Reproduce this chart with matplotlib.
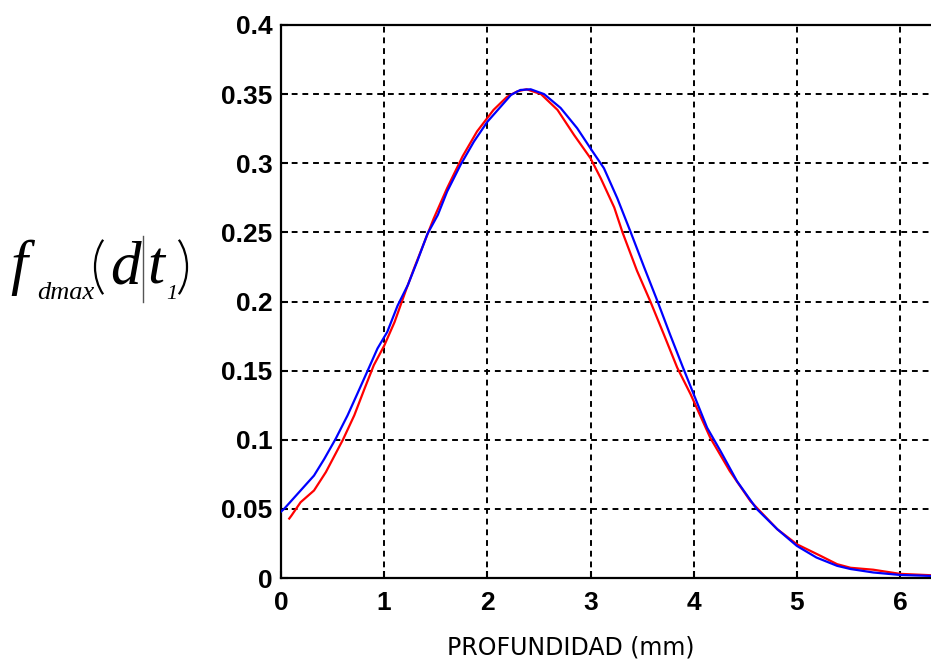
import numpy as np
import matplotlib
matplotlib.use("Agg")
import matplotlib.pyplot as plt
from matplotlib.lines import Line2D
from matplotlib.patches import Arc

plt.rcParams.update({
    "figure.facecolor": (1.0, 1.0, 1.0, 1.0),
})

# curve values
x_blue = [0.0, 0.03, 0.19, 0.32, 0.42, 0.53, 0.645, 0.74, 0.84, 0.935, 1.03,
          1.13, 1.23, 1.32, 1.42, 1.52, 1.61, 1.74, 1.87, 2.0, 2.13, 2.23,
          2.32, 2.42, 2.55, 2.71, 2.87, 3.02, 3.13, 3.26, 3.39, 3.52, 3.65,
          3.77, 3.89, 4.0, 4.13, 4.26, 4.42, 4.61, 4.81, 5.0, 5.19, 5.39,
          5.52, 5.74, 6.0, 6.3]
y_blue = [0.048, 0.05, 0.0633, 0.0741, 0.0862, 0.1007, 0.1176, 0.1333, 0.15,
          0.166, 0.178, 0.197, 0.212, 0.229, 0.249, 0.2626, 0.2795, 0.2988,
          0.3157, 0.330, 0.341, 0.3495, 0.353, 0.3535, 0.35, 0.340, 0.3254,
          0.3085, 0.2964, 0.2746, 0.25, 0.2247, 0.20, 0.1763, 0.1534, 0.1329,
          0.1087, 0.0918, 0.070, 0.050, 0.0353, 0.0232, 0.0148, 0.0088,
          0.0065, 0.004, 0.0022, 0.0015]

x_red = [0.08, 0.10, 0.19, 0.32, 0.435, 0.60, 0.71, 0.81, 0.90, 1.0, 1.10,
         1.21, 1.29, 1.39, 1.48, 1.61, 1.76, 1.90, 2.06, 2.19, 2.29, 2.38,
         2.52, 2.68, 2.84, 3.0, 3.10, 3.23, 3.31, 3.45, 3.58, 3.71, 3.84,
         3.97, 4.16, 4.35, 4.55, 4.81, 5.0, 5.23, 5.39, 5.52, 5.74, 6.0, 6.3]
y_red = [0.043, 0.045, 0.0548, 0.0633, 0.0766, 0.100, 0.1176, 0.137, 0.154,
         0.168, 0.185, 0.208, 0.224, 0.243, 0.260, 0.282, 0.305, 0.323,
         0.3386, 0.348, 0.352, 0.3535, 0.35, 0.3386, 0.3205, 0.3036, 0.289,
         0.268, 0.25, 0.2223, 0.20, 0.1763, 0.1522, 0.1329, 0.1015, 0.0773,
         0.0556, 0.0353, 0.0244, 0.016, 0.010, 0.0074, 0.006, 0.003, 0.002]

x_ticks = [0, 1, 2, 3, 4, 5, 6]
y_ticks = [0, 0.05, 0.1, 0.15, 0.2, 0.25, 0.3, 0.35, 0.4]
y_ticklabels = ["0", "0.05", "0.1", "0.15", "0.2", "0.25", "0.3", "0.35", "0.4"]

W, H = 931, 661
fig = plt.figure(figsize=(W / 100, H / 100), dpi=100)
ax = fig.add_axes([281 / W, 83 / H, 1 - 281 / W, 553 / H])

ax.plot(x_red, y_red, color="#ff0000", lw=1.6, zorder=3)
ax.plot(x_blue, y_blue, color="#0000ff", lw=1.6, zorder=4)

ax.set_xlim(0, 6.3)
ax.set_ylim(0, 0.4)
ax.set_xticks(x_ticks)
ax.set_yticks(y_ticks)
ax.set_yticklabels(y_ticklabels)

ax.grid(True, color="black", linestyle=(0, (3, 2.5)), linewidth=1.4)
ax.set_axisbelow(True)
ax.tick_params(direction="in", length=5, width=1.5, top=False, right=False)
ax.tick_params(axis="x", pad=9)
ax.tick_params(axis="y", pad=6)
for lab in ax.get_xticklabels() + ax.get_yticklabels():
    lab.set_fontfamily("Liberation Sans")
    lab.set_fontweight("bold")
    lab.set_fontsize(19)

for side in ["left", "bottom", "top"]:
    ax.spines[side].set_linewidth(1.6)
ax.spines["right"].set_visible(False)

fig.text(571 / W, 14 / H, "PROFUNDIDAD (mm)", ha="center", va="center",
         fontsize=17, family="DejaVu Sans")

# y label f_dmax(d|t_1), built piece by piece (pixel positions from the top)
def fx(px):
    return px / W

def fy(py):
    return (H - py) / H

serif = "Liberation Serif"
base = fy(283)
fig.text(fx(10), base, "f", family=serif, style="italic", fontsize=44,
         ha="left", va="baseline")
fig.text(fx(37), fy(299), "dmax", family=serif, style="italic", fontsize=19,
         ha="left", va="baseline")
fig.text(fx(110), base, "d", family=serif, style="italic", fontsize=44,
         ha="left", va="baseline")
fig.add_artist(Line2D([fx(143), fx(143)], [fy(236), fy(302)],
                      color="#555555", lw=1.0))
fig.text(fx(147), base, "t", family=serif, style="italic", fontsize=44,
         ha="left", va="baseline")
fig.text(fx(166), fy(299), "1", family=serif, style="italic", fontsize=16,
         ha="left", va="baseline")

# large thin parentheses as elliptic arcs
pw, ph = 70, 85
fig.add_artist(Arc((fx(95 + pw / 2), fy(267)), pw / W, ph / H,
                   theta1=125, theta2=235, transform=fig.transFigure,
                   color="black", lw=1.6))
fig.add_artist(Arc((fx(187 - pw / 2), fy(267)), pw / W, ph / H,
                   theta1=-55, theta2=55, transform=fig.transFigure,
                   color="black", lw=1.6))

fig.savefig("out.png", dpi=100, facecolor="w")
